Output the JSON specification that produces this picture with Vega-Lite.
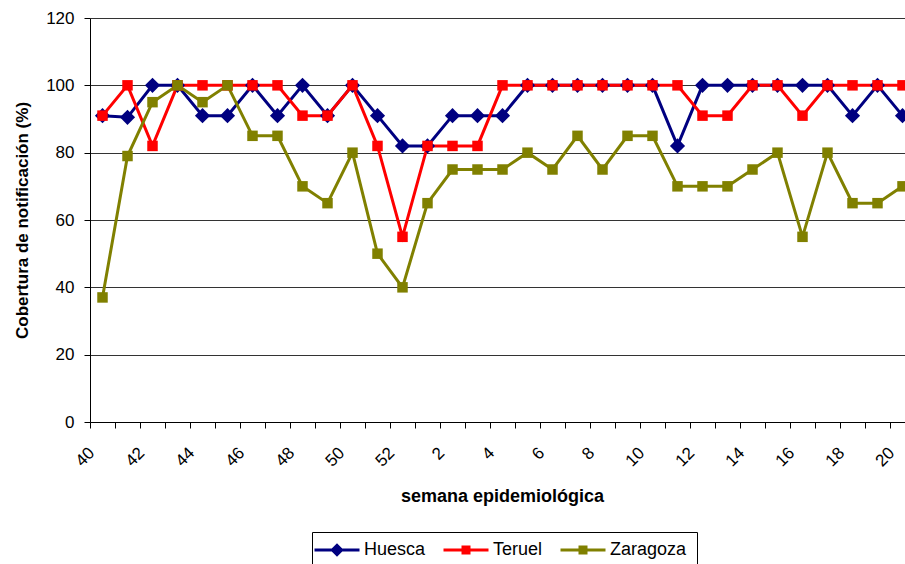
{
  "$schema": "https://vega.github.io/schema/vega-lite/v6.json",
  "width": 815,
  "height": 404,
  "autosize": {"type": "none"},
  "padding": {"left": 90, "top": 18, "right": 0, "bottom": 142},
  "background": "white",
  "config": {
    "font": "Liberation Sans",
    "view": {"stroke": null}
  },
  "datasets": {
    "cov": [
      {"week":"40","region":"Huesca","value":91},{"week":"41","region":"Huesca","value":90.5},{"week":"42","region":"Huesca","value":100},{"week":"43","region":"Huesca","value":100},{"week":"44","region":"Huesca","value":91},{"week":"45","region":"Huesca","value":91},{"week":"46","region":"Huesca","value":100},{"week":"47","region":"Huesca","value":91},{"week":"48","region":"Huesca","value":100},{"week":"49","region":"Huesca","value":91},{"week":"50","region":"Huesca","value":100},{"week":"51","region":"Huesca","value":91},{"week":"52","region":"Huesca","value":82},{"week":"1","region":"Huesca","value":82},{"week":"2","region":"Huesca","value":91},{"week":"3","region":"Huesca","value":91},{"week":"4","region":"Huesca","value":91},{"week":"5","region":"Huesca","value":100},{"week":"6","region":"Huesca","value":100},{"week":"7","region":"Huesca","value":100},{"week":"8","region":"Huesca","value":100},{"week":"9","region":"Huesca","value":100},{"week":"10","region":"Huesca","value":100},{"week":"11","region":"Huesca","value":82},{"week":"12","region":"Huesca","value":100},{"week":"13","region":"Huesca","value":100},{"week":"14","region":"Huesca","value":100},{"week":"15","region":"Huesca","value":100},{"week":"16","region":"Huesca","value":100},{"week":"17","region":"Huesca","value":100},{"week":"18","region":"Huesca","value":91},{"week":"19","region":"Huesca","value":100},{"week":"20","region":"Huesca","value":91},
      {"week":"40","region":"Teruel","value":91},{"week":"41","region":"Teruel","value":100},{"week":"42","region":"Teruel","value":82},{"week":"43","region":"Teruel","value":100},{"week":"44","region":"Teruel","value":100},{"week":"45","region":"Teruel","value":100},{"week":"46","region":"Teruel","value":100},{"week":"47","region":"Teruel","value":100},{"week":"48","region":"Teruel","value":91},{"week":"49","region":"Teruel","value":91},{"week":"50","region":"Teruel","value":100},{"week":"51","region":"Teruel","value":82},{"week":"52","region":"Teruel","value":55},{"week":"1","region":"Teruel","value":82},{"week":"2","region":"Teruel","value":82},{"week":"3","region":"Teruel","value":82},{"week":"4","region":"Teruel","value":100},{"week":"5","region":"Teruel","value":100},{"week":"6","region":"Teruel","value":100},{"week":"7","region":"Teruel","value":100},{"week":"8","region":"Teruel","value":100},{"week":"9","region":"Teruel","value":100},{"week":"10","region":"Teruel","value":100},{"week":"11","region":"Teruel","value":100},{"week":"12","region":"Teruel","value":91},{"week":"13","region":"Teruel","value":91},{"week":"14","region":"Teruel","value":100},{"week":"15","region":"Teruel","value":100},{"week":"16","region":"Teruel","value":91},{"week":"17","region":"Teruel","value":100},{"week":"18","region":"Teruel","value":100},{"week":"19","region":"Teruel","value":100},{"week":"20","region":"Teruel","value":100},
      {"week":"40","region":"Zaragoza","value":37},{"week":"41","region":"Zaragoza","value":79},{"week":"42","region":"Zaragoza","value":95},{"week":"43","region":"Zaragoza","value":100},{"week":"44","region":"Zaragoza","value":95},{"week":"45","region":"Zaragoza","value":100},{"week":"46","region":"Zaragoza","value":85},{"week":"47","region":"Zaragoza","value":85},{"week":"48","region":"Zaragoza","value":70},{"week":"49","region":"Zaragoza","value":65},{"week":"50","region":"Zaragoza","value":80},{"week":"51","region":"Zaragoza","value":50},{"week":"52","region":"Zaragoza","value":40},{"week":"1","region":"Zaragoza","value":65},{"week":"2","region":"Zaragoza","value":75},{"week":"3","region":"Zaragoza","value":75},{"week":"4","region":"Zaragoza","value":75},{"week":"5","region":"Zaragoza","value":80},{"week":"6","region":"Zaragoza","value":75},{"week":"7","region":"Zaragoza","value":85},{"week":"8","region":"Zaragoza","value":75},{"week":"9","region":"Zaragoza","value":85},{"week":"10","region":"Zaragoza","value":85},{"week":"11","region":"Zaragoza","value":70},{"week":"12","region":"Zaragoza","value":70},{"week":"13","region":"Zaragoza","value":70},{"week":"14","region":"Zaragoza","value":75},{"week":"15","region":"Zaragoza","value":80},{"week":"16","region":"Zaragoza","value":55},{"week":"17","region":"Zaragoza","value":80},{"week":"18","region":"Zaragoza","value":65},{"week":"19","region":"Zaragoza","value":65},{"week":"20","region":"Zaragoza","value":70}
    ]
  },
  "data": {"name": "cov"},
  "encoding": {
    "x": {
      "field": "week",
      "type": "ordinal",
      "sort": ["40","41","42","43","44","45","46","47","48","49","50","51","52","1","2","3","4","5","6","7","8","9","10","11","12","13","14","15","16","17","18","19","20"],
      "scale": {"type": "band", "range": [0, 825], "paddingInner": 0, "paddingOuter": 0},
      "axis": {
        "title": "semana epidemiológica",
        "titleFont": "Liberation Sans",
        "titleFontSize": 18,
        "titleFontWeight": "bold",
        "titleColor": "black",
        "titleX": 412,
        "titleY": 65,
        "titleBaseline": "top",
        "titleAlign": "center",
        "labelExpr": "toNumber(datum.value) % 2 === 0 ? datum.value : ''",
        "labelAngle": -45,
        "labelAlign": "right",
        "labelBaseline": "middle",
        "labelFontSize": 17,
        "labelColor": "black",
        "labelPadding": 22,
        "labelOffset": -11,
        "tickBand": "extent",
        "tickColor": "black",
        "tickSize": 6,
        "domainColor": "black",
        "grid": false
      }
    },
    "y": {
      "field": "value",
      "type": "quantitative",
      "scale": {"domain": [0, 120], "nice": false},
      "axis": {
        "title": "Cobertura de notificación (%)",
        "titleFont": "Liberation Sans",
        "titleFontSize": 17,
        "titleFontWeight": "bold",
        "titleColor": "black",
        "titleX": -68,
        "titleY": 202,
        "titleAngle": -90,
        "titleAlign": "center",
        "titleBaseline": "middle",
        "values": [0, 20, 40, 60, 80, 100, 120],
        "labelFontSize": 17,
        "labelColor": "black",
        "labelPadding": 10,
        "tickColor": "black",
        "tickSize": 6,
        "domainColor": "black",
        "grid": true,
        "gridColor": "#333333",
        "gridWidth": 1
      }
    },
    "color": {
      "field": "region",
      "type": "nominal",
      "scale": {"domain": ["Huesca", "Teruel", "Zaragoza"], "range": ["#000080", "#FF0000", "#808000"]},
      "legend": {
        "title": null,
        "orient": "none",
        "legendX": 222,
        "legendY": 514,
        "direction": "horizontal",
        "strokeColor": "black",
        "fillColor": "white",
        "padding": 10,
        "labelFont": "Liberation Sans",
        "labelFontSize": 18,
        "labelColor": "black",
        "labelOffset": 12,
        "columnPadding": 17,
        "symbolSize": 900,
        "symbolOpacity": 1,
        "symbolStrokeWidth": 0,
        "encode": {
          "labels": {
            "update": {
              "dy": {"value": -7}
            }
          },
          "symbols": {
            "update": {
              "shape": {"signal": "datum.value === 'Huesca' ? 'M-1.5,-0.567H1.5V-0.367H-1.5Z M0,-0.917L0.45,-0.467L0,-0.017L-0.45,-0.467Z' : 'M-1.5,-0.567H1.5V-0.367H-1.5Z M-0.3,-0.767H0.3V-0.167H-0.3Z'"},
              "fill": {"signal": "scale('color', datum.value)"},
              "stroke": {"value": "transparent"},
              "strokeWidth": {"value": 0},
              "opacity": {"value": 1},
              "fillOpacity": {"value": 1}
            }
          }
        }
      }
    }
  },
  "layer": [
    {
      "mark": {"type": "line", "strokeWidth": 3}
    },
    {
      "transform": [{"filter": "datum.region === 'Huesca'"}],
      "mark": {"type": "point", "filled": true, "opacity": 1, "shape": "diamond", "size": 230}
    },
    {
      "transform": [{"filter": "datum.region !== 'Huesca'"}],
      "mark": {"type": "point", "filled": true, "opacity": 1, "shape": "square", "size": 110}
    }
  ]
}
